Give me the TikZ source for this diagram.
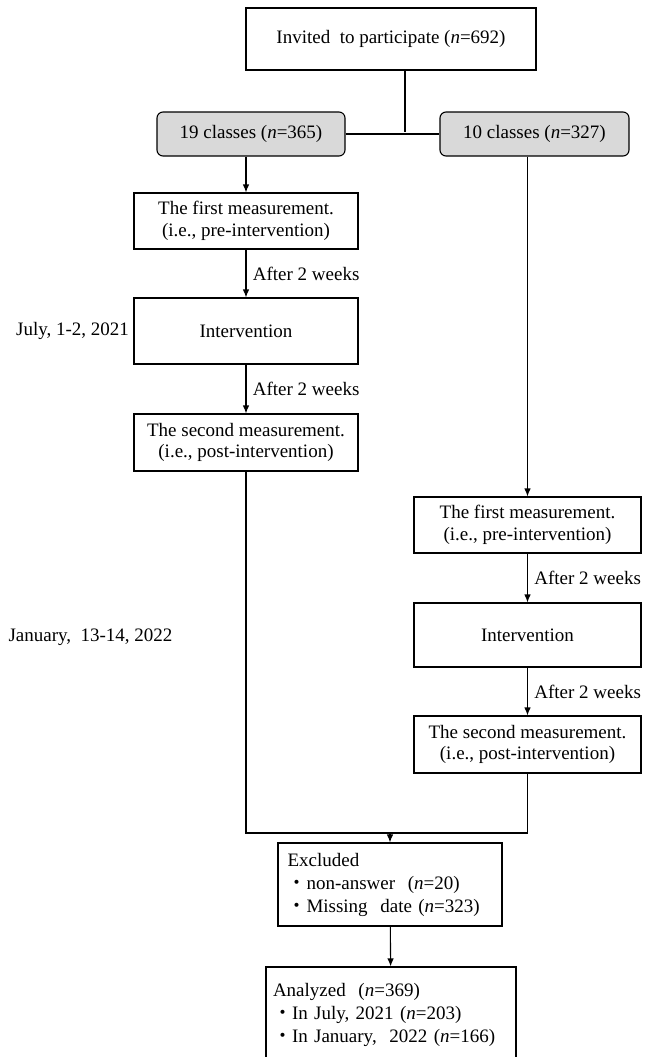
\documentclass[tikz,border=0pt]{standalone}
\usepackage{fontspec}
\setmainfont{Liberation Serif}
\newfontfamily\cjk{Noto Sans CJK JP}
\usepackage{tikz}
\usetikzlibrary{positioning,arrows.meta,calc}
\definecolor{groupgray}{RGB}{217,217,217}
\tikzset{>={Latex[length=8pt,width=6.5pt]}}
\tikzstyle{box}=[draw, line width=1.1pt, align=center, inner sep=4pt]
\tikzstyle{group}=[box, rounded corners=6pt, fill=groupgray]
\newcommand{\drawbox}{\node[box]}
\newcommand{\drawgroup}{\node[group]}
\newcommand{\dotitem}{{\cjk ・}}

\begin{document}
\begin{tikzpicture}[x=1pt, y=-1pt, line width=1.1pt, font=\fontsize{19}{21.5}\selectfont]
	\useasboundingbox (0,0) rectangle (652,1057);

	\drawbox[minimum width=290, minimum height=62] (inv) at (391,39) {Invited\ \ to participate (\textit{n}=692)};
	\drawgroup[minimum width=188, minimum height=44] (g1) at (251,134) {19 classes (\textit{n}=365)};
	\drawgroup[minimum width=189, minimum height=44] (g2) at (534.5,134) {10 classes (\textit{n}=327)};
	\coordinate (split) at (405,132);

	% left column
	\drawbox[minimum width=224, minimum height=56] (m1) at (246,221) {The first measurement.\\(i.e., pre-intervention)};
	\drawbox[minimum width=224, minimum height=66] (i1) at (246,331) {Intervention};
	\drawbox[minimum width=224, minimum height=57] (m2) at (246,442.5) {The second measurement.\\(i.e., post-intervention)};
	\node[inner sep=1pt, left=3pt of i1] (july) {July, 1-2, 2021};

	% right column
	\drawbox[minimum width=227, minimum height=56] (m1r) at (527.5,525) {The first measurement.\\(i.e., pre-intervention)};
	\drawbox[minimum width=227, minimum height=64] (i1r) at (527.5,635) {Intervention};
	\drawbox[minimum width=227, minimum height=57] (m2r) at (527.5,744.5) {The second measurement.\\(i.e., post-intervention)};
	\node[inner sep=0, anchor=west] (jan) at (8,637) {January,\ \ 13-14, 2022};

	\coordinate (merge) at (391,833);
	\drawbox[minimum width=224, minimum height=83, text width=205, align=left, font=\fontsize{19}{23}\selectfont] (excl) at (390,884.5)
		{Excluded\\\dotitem non-answer\ \ (\textit{n}=20)\\\dotitem Missing\ \ date (\textit{n}=323)};
	\drawbox[minimum width=250, minimum height=96, text width=236, align=left, font=\fontsize{19}{23}\selectfont] (anal) at (391,1015)
		{Analyzed\ \ (\textit{n}=369)\\\dotitem In July, 2021 (\textit{n}=203)\\\dotitem In January,\ \ 2022 (\textit{n}=166)};

	\draw (inv.south -| split) -- (split);
	\draw (g1.east) -- (g2.west);
	\draw[->] (m1.north |- g1.south) -- (m1.north);
	\draw[->] (m1) -- node[midway, right=3pt] {After 2 weeks} (i1);
	\draw[->] (i1) -- node[midway, right=3pt] {After 2 weeks} (m2);
	\draw[->] (m1r.north |- g2.south) -- (m1r.north);
	\draw[->] (m1r) -- node[midway, right=3pt] {After 2 weeks} (i1r);
	\draw[->] (i1r) -- node[midway, right=3pt] {After 2 weeks} (m2r);

	\draw (m2.south) -- (m2.south |- merge) -- (m2r.south |- merge) -- (m2r.south);
	\draw[->] (excl.north |- merge) -- (excl.north);
	\draw[->] (excl) -- (anal);

\end{tikzpicture}
\end{document}
